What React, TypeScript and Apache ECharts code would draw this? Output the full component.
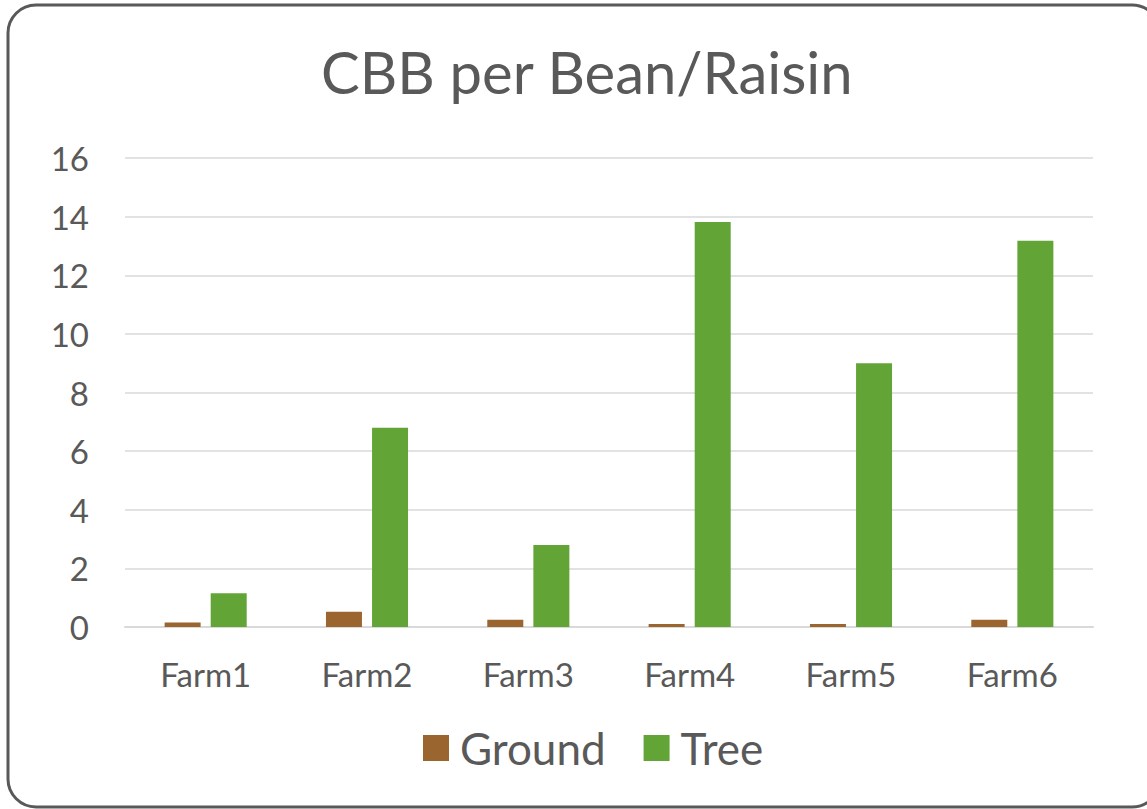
import React, { useEffect, useRef } from "react";
import * as echarts from "echarts";

const categories = ["Farm1", "Farm2", "Farm3", "Farm4", "Farm5", "Farm6"];
const groundValues = [0.15, 0.52, 0.25, 0.1, 0.1, 0.25];
const treeValues = [1.15, 6.8, 2.8, 13.82, 9.0, 13.18];
const yTicks = { min: 0, max: 16, interval: 2 };

const FONT = "Lato, 'Open Sans', sans-serif";

export default function App() {
  const ref = useRef<HTMLDivElement>(null);
  useEffect(() => {
    document.body.style.margin = "0";
    const chart = echarts.init(ref.current!, undefined, { renderer: "svg" });
    chart.setOption({
      animation: false,
      backgroundColor: "#ffffff",
      title: {
        text: "CBB per Bean/Raisin",
        left: 316,
        top: 37,
        textStyle: { fontFamily: FONT, fontSize: 58, fontWeight: "normal", color: "#595959" },
      },
      graphic: [
        {
          type: "rect",
          shape: { x: 8, y: 5, width: 1152, height: 802, r: 28 },
          style: { fill: "none", stroke: "#595959", lineWidth: 3 },
          silent: true,
        },
      ],
      legend: {
        bottom: 34,
        left: 418,
        itemWidth: 26,
        itemHeight: 26,
        itemGap: 38,
        icon: "rect",
        textStyle: { fontFamily: FONT, fontSize: 44, color: "#595959", padding: [0, 0, 0, 6] },
        data: ["Ground", "Tree"],
      },
      grid: { left: 125, right: 54, top: 158, bottom: 182 },
      xAxis: {
        type: "category",
        data: categories,
        axisLine: { lineStyle: { color: "#d9d9d9", width: 2 } },
        axisTick: { show: false },
        axisLabel: { fontFamily: FONT, fontSize: 33, color: "#595959", margin: 30 },
      },
      yAxis: {
        type: "value",
        min: yTicks.min,
        max: yTicks.max,
        interval: yTicks.interval,
        axisLine: { show: false },
        axisTick: { show: false },
        splitLine: { lineStyle: { color: "#d9d9d9", width: 1.5 } },
        axisLabel: { fontFamily: FONT, fontSize: 33, color: "#595959", margin: 36 },
      },
      series: [
        {
          name: "Ground",
          type: "bar",
          data: groundValues,
          barWidth: 36,
          barGap: "28%",
          itemStyle: { color: "#9b6530" },
        },
        {
          name: "Tree",
          type: "bar",
          data: treeValues,
          barWidth: 36,
          itemStyle: { color: "#62a536" },
        },
      ],
    });
    return () => chart.dispose();
  }, []);
  return <div ref={ref} style={{ width: 1147, height: 809 }} />;
}
